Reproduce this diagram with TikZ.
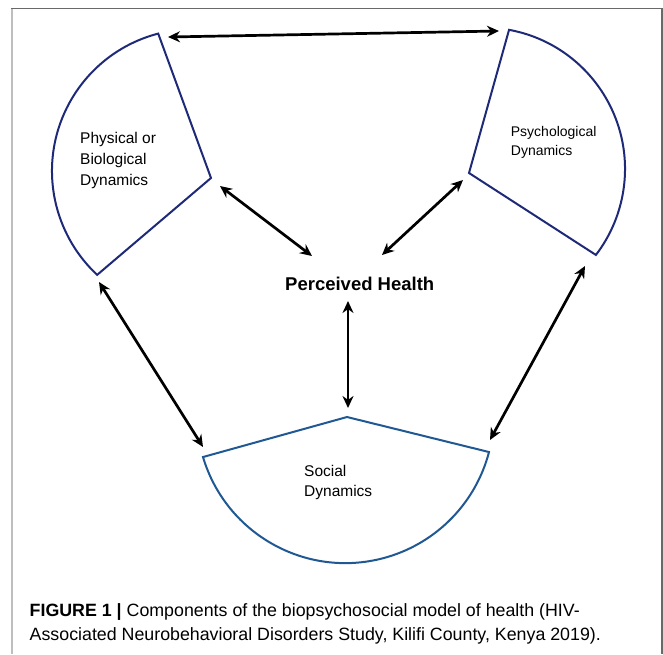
\documentclass[tikz,border=0pt]{standalone}
\usepackage{fontspec}
\setmainfont{Liberation Sans}
\usetikzlibrary{arrows.meta}
\definecolor{navyline}{RGB}{30,42,120}
\definecolor{socline}{RGB}{32,88,148}
\definecolor{frameD}{RGB}{105,105,105}
\definecolor{frameL}{RGB}{190,190,190}
\tikzset{
  sector/.style={line width=2pt, line join=miter},
  link/.style={line width=2.7pt, {Stealth[length=12pt,width=11pt]}-{Stealth[length=12pt,width=11pt]}},
  lbl/.style={anchor=base west, inner sep=0pt, font=\fontsize{15.5}{18}\selectfont},
  plbl/.style={anchor=base west, inner sep=0pt, font=\fontsize{14}{17}\selectfont},
  caplbl/.style={anchor=base west, inner sep=0pt, font=\fontsize{17.8}{20}\selectfont},
}
\begin{document}
\begin{tikzpicture}[x=1pt,y=1pt]
\useasboundingbox (0,0) rectangle (663,-654);
% frame
\draw[frameL, line width=2pt] (12.3,-8.3) -- (12.3,-654);
\draw[frameD, line width=1.3pt] (11.3,-8.3) -- (662,-8.3) -- (662,-654);

% sectors
\coordinate (Pc) at (194,-171);
\coordinate (Pv) at (211,-178);
\draw[sector, navyline] (Pc) ++(104.6:142) coordinate (Pa)
  arc[start angle=104.6, end angle=227, radius=142] coordinate (Pb) -- (Pv) -- cycle;

\coordinate (Sc) at (483.5,-169);
\coordinate (Sv) at (469,-173);
\draw[sector, navyline] (Sc) ++(79.6:141.5) coordinate (Sa)
  arc[start angle=79.6, end angle=-37.4, radius=141.5] coordinate (Sb) -- (Sv) -- cycle;

\coordinate (Oc) at (345.3,-414.6);
\coordinate (Ov) at (347,-417);
\draw[sector, socline] (Oc) ++(196.6:148.5) coordinate (Oa)
  arc[start angle=196.6, end angle=345.4, radius=148.5] coordinate (Ob) -- (Ov) -- cycle;

% labels
\node[lbl] (phys1) at (80,-143.3) {Physical or};
\node[lbl] (phys2) at (80,-164.5) {Biological};
\node[lbl] (phys3) at (80,-185.7) {Dynamics};
\node[plbl] (psy1) at (510.7,-136) {Psychological};
\node[plbl] (psy2) at (510.7,-155) {Dynamics};
\node[lbl] (soc1) at (304,-476) {Social};
\node[lbl] (soc2) at (304,-496.7) {Dynamics};
\node[anchor=base west, inner sep=0pt, font=\fontsize{18.5}{22}\selectfont\bfseries] (ph) at (285,-290) {Perceived Health};

% arrow ends
\coordinate (t1) at (168,-37);
\coordinate (t2) at (499,-31);
\coordinate (a1) at (220,-186);
\coordinate (a2) at (312,-256);
\coordinate (b1) at (463,-180);
\coordinate (b2) at (382,-255);
\coordinate (c1) at (348,-301);
\coordinate (c2) at (348,-408);
\coordinate (d1) at (99,-282);
\coordinate (d2) at (203,-447);
\coordinate (e1) at (585,-266);
\coordinate (e2) at (490,-440);

\draw[link] (t1) -- (t2);
\draw[link] (a1) -- (a2);
\draw[link] (b1) -- (b2);
\draw[link] (c1) -- (c2);
\draw[link] (d1) -- (d2);
\draw[link] (e1) -- (e2);

% caption
\node[caplbl] (cap1) at (29.5,-616) {\textbf{FIGURE 1 |} Components of the biopsychosocial model of health (HIV-};
\node[caplbl] (cap2) at (29.5,-640) {Associated Neurobehavioral Disorders Study, Kilifi County, Kenya 2019).};
\end{tikzpicture}
\end{document}
